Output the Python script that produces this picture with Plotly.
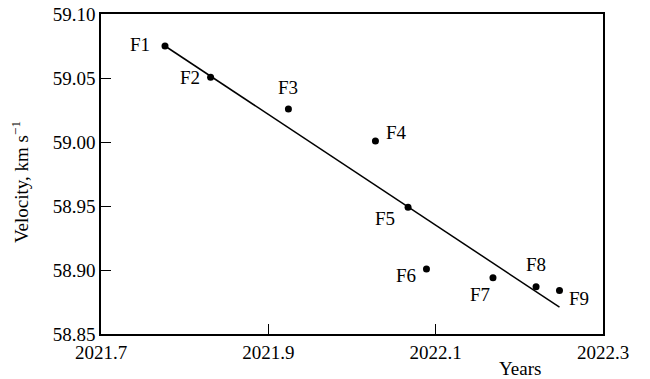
import plotly.graph_objects as go

# Data
labels = ["F1", "F2", "F3", "F4", "F5", "F6", "F7", "F8", "F9"]
years = [2021.7765, 2021.831, 2021.924, 2022.028, 2022.067, 2022.089, 2022.1685, 2022.220, 2022.248]
velocity = [59.075, 59.0506, 59.0258, 59.0008, 58.949, 58.9008, 58.894, 58.887, 58.884]
fit_years = [2021.7765, 2022.248]
fit_velocity = [59.075, 58.871]
x_ticks = [2021.7, 2021.9, 2022.1, 2022.3]
y_ticks = [58.85, 58.90, 58.95, 59.00, 59.05, 59.10]

# Label offsets (pixels, dx right, dy down)
label_offsets = [(-25, -2), (-21, 0), (0, -21), (21, -8), (-23, 11),
                 (-20, 7), (-13, 17), (0, -22), (20, 8)]

FONT = "Liberation Serif"
FS = 19

fig = go.Figure()
fig.add_trace(go.Scatter(x=fit_years, y=fit_velocity, mode="lines",
                         line=dict(color="black", width=1.5), showlegend=False,
                         hoverinfo="skip"))
fig.add_trace(go.Scatter(x=years, y=velocity, mode="markers",
                         marker=dict(color="black", size=7), showlegend=False))

for lab, xv, yv, (dx, dy) in zip(labels, years, velocity, label_offsets):
    fig.add_annotation(x=xv, y=yv, text=lab, showarrow=False,
                       xanchor="center", yanchor="middle",
                       xshift=dx, yshift=-dy,
                       font=dict(family=FONT, size=FS, color="black"))

# x-axis title placed like the reference (lower right)
fig.add_annotation(x=0.835, y=0, xref="paper", yref="paper", text="Years",
                   showarrow=False, xanchor="center", yanchor="middle",
                   yshift=-34,
                   font=dict(family=FONT, size=FS, color="black"))
# y-axis title
fig.add_annotation(x=0, y=0.5, xref="paper", yref="paper",
                   text="Velocity, km s<sup>\u22121</sup>", textangle=-90,
                   showarrow=False, xanchor="center", yanchor="middle",
                   xshift=-81, yshift=-8,
                   font=dict(family=FONT, size=FS, color="black"))

axis_common = dict(showline=True, linecolor="black", linewidth=1.5, mirror=True,
                   ticks="inside", ticklen=10, tickwidth=1.2, tickcolor="black",
                   showgrid=False, zeroline=False,
                   tickfont=dict(family=FONT, size=FS, color="black"))

fig.update_xaxes(range=[2021.7, 2022.3], tickvals=x_ticks,
                 ticktext=[f"{v:.1f}" for v in x_ticks], **axis_common)
fig.update_yaxes(range=[58.85, 59.10], tickvals=y_ticks,
                 ticktext=[f"{v:.2f}" for v in y_ticks], **axis_common)

fig.update_layout(width=650, height=379,
                  margin=dict(l=101, r=47, t=14, b=45, autoexpand=False),
                  plot_bgcolor="white", paper_bgcolor="white",
                  font=dict(family=FONT, size=FS, color="black"))

fig.write_html("out.html", config={"displayModeBar": False},
               post_script="document.body.style.margin='0';document.body.style.padding='0';")
